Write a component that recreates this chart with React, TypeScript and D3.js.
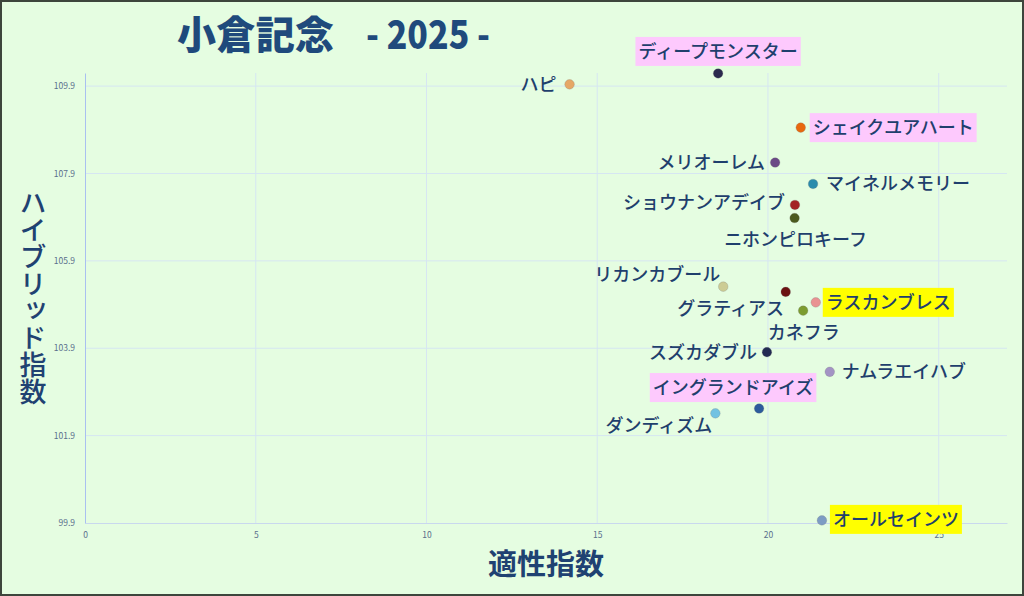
import React, { useRef, useEffect } from "react";
import * as d3 from "d3";

const horses = [
    "ディープモンスター", "ハピ", "シェイクユアハート", "メリオーレム", "マイネルメモリー",
    "ショウナンアデイブ", "ニホンピロキーフ", "リカンカブール", "カネフラ", "ラスカンブレス",
    "グラティアス", "スズカダブル", "ナムラエイハブ", "イングランドアイズ", "ダンディズム", "オールセインツ",
];
const aptitude = [18.54, 14.19, 20.96, 20.21, 21.32, 20.79, 20.78, 18.69, 20.52, 21.40, 21.03, 19.97, 21.81, 19.74, 18.46, 21.58];
const hybrid = [110.19, 109.94, 108.95, 108.15, 107.66, 107.18, 106.88, 105.31, 105.19, 104.95, 104.76, 103.81, 103.36, 102.52, 102.41, 99.96];
const xTicks = [0, 5, 10, 15, 20, 25];
const yTicks = [99.9, 101.9, 103.9, 105.9, 107.9, 109.9];

const dotColors = [
    "#2b2a4e", "#e6a766", "#e8680e", "#6b4a86", "#2a8bac", "#a32424", "#4b5a1e", "#cccc94",
    "#6b1212", "#e99292", "#7c9c30", "#222a52", "#a393c4", "#2c5c9c", "#72c2e2", "#7d9cc4",
];
// label placement: dx, dy, anchor, highlight
const labelPlace: [number, number, string, string | null][] = [
    [0, -22, "middle", "#fdc9fd"],
    [-13, 0, "end", null],
    [12, 0, "start", "#fdc9fd"],
    [-10, 0, "end", null],
    [13, 0, "start", null],
    [-10, -2, "end", null],
    [1, 21, "middle", null],
    [-3, -12, "end", null],
    [18, 41, "middle", null],
    [10, 0, "start", "#ffff00"],
    [-19, -2, "end", null],
    [-10, 0, "end", null],
    [12, 0, "start", null],
    [-26, -21, "middle", "#fdc9fd"],
    [-3, 12, "end", null],
    [11, -1, "start", "#ffff00"],
];

export default function App() {
    const svgRef = useRef<SVGSVGElement>(null);

    useEffect(() => {
        const width = 1024;
        const height = 596;
        const plot = { left: 85, right: 1007, top: 73, bottom: 523 };
        const textColor = "#1f3f6d";
        const font = "'Noto Sans CJK JP', 'Noto Sans', sans-serif";

        const x = d3.scaleLinear().domain([0, 27]).range([plot.left, plot.right]);
        const y = d3.scaleLinear().domain([99.9, 110.2]).range([plot.bottom, plot.top]);

        const svg = d3.select(svgRef.current).attr("width", width).attr("height", height);
        svg.selectAll("*").remove();

        svg.append("rect")
            .attr("x", 1).attr("y", 1).attr("width", width - 2).attr("height", height - 2)
            .attr("fill", "#e5fde1").attr("stroke", "#3d453c").attr("stroke-width", 2);

        // gridlines
        svg.append("g").selectAll("line").data(xTicks.slice(1)).join("line")
            .attr("x1", (d) => x(d)).attr("x2", (d) => x(d))
            .attr("y1", plot.top).attr("y2", plot.bottom)
            .attr("stroke", "#d6e6f2").attr("stroke-width", 1);
        svg.append("g").selectAll("line").data(yTicks.slice(1)).join("line")
            .attr("x1", plot.left).attr("x2", plot.right)
            .attr("y1", (d) => y(d)).attr("y2", (d) => y(d))
            .attr("stroke", "#d6e6f2").attr("stroke-width", 1);

        // axes
        const xAxis = svg.append("g")
            .attr("transform", `translate(0,${plot.bottom})`)
            .call(d3.axisBottom(x).tickValues(xTicks).tickSize(0).tickPadding(9));
        xAxis.select(".domain").attr("stroke", "#c9d8ee");
        xAxis.selectAll("text").attr("fill", "#5a6f8c").attr("font-size", 8.5).attr("font-family", font);

        const yAxis = svg.append("g")
            .attr("transform", `translate(${plot.left},0)`)
            .call(d3.axisLeft(y).tickValues(yTicks).tickFormat(d3.format(".1f")).tickSize(0).tickPadding(10));
        yAxis.select(".domain").attr("stroke", "#a9c0f0");
        yAxis.selectAll("text").attr("fill", "#5a6f8c").attr("font-size", 8.5).attr("font-family", font);

        // titles
        const title = svg.append("text")
            .attr("x", 177).attr("y", 49)
            .attr("fill", "#1f4a7c").attr("font-family", font).attr("font-weight", 900)
            .attr("font-size", 39);
        title.append("tspan").text("小倉記念").attr("textLength", 157).attr("lengthAdjust", "spacing");
        title.append("tspan").attr("x", 366).text("- 2025 -").attr("textLength", 124).attr("lengthAdjust", "spacingAndGlyphs");

        svg.append("text")
            .attr("x", 546).attr("y", 575).attr("text-anchor", "middle")
            .attr("fill", "#1f4272").attr("font-family", font).attr("font-weight", 700)
            .attr("font-size", 29).text("適性指数");

        svg.append("text")
            .attr("transform", "translate(33,297)")
            .attr("text-anchor", "middle")
            .style("writing-mode", "vertical-rl")
            .attr("fill", "#1f4272").attr("font-family", font).attr("font-weight", 500)
            .attr("font-size", 27).text("ハイブリッド指数");

        const data = horses.map((name, i) => ({ name, ax: aptitude[i], hy: hybrid[i], color: dotColors[i], place: labelPlace[i] }));

        // labels
        const labels = svg.append("g");
        data.forEach((d) => {
            const [dx, dy, anchor, hl] = d.place;
            const g = labels.append("g");
            const t = g.append("text")
                .attr("x", x(d.ax) + dx).attr("y", y(d.hy) + dy)
                .attr("dy", "0.36em")
                .attr("text-anchor", anchor)
                .attr("fill", textColor).attr("font-family", font).attr("font-weight", 500)
                .attr("font-size", 18).text(d.name);
            if (hl) {
                const b = (t.node() as SVGTextElement).getBBox();
                g.insert("rect", "text")
                    .attr("x", b.x - 3).attr("y", y(d.hy) + dy - 14.5)
                    .attr("width", b.width + 6).attr("height", 29)
                    .attr("fill", hl);
            }
        });

        // points
        svg.append("g").selectAll("circle").data(data).join("circle")
            .attr("cx", (d) => x(d.ax)).attr("cy", (d) => y(d.hy))
            .attr("r", 4.8)
            .attr("fill", (d) => d.color)
            .attr("stroke", "rgba(120,120,120,0.25)").attr("stroke-width", 1);
    }, []);

    return (
        <svg ref={svgRef} style={{ position: "absolute", left: 0, top: 0 }}></svg>
    );
}
